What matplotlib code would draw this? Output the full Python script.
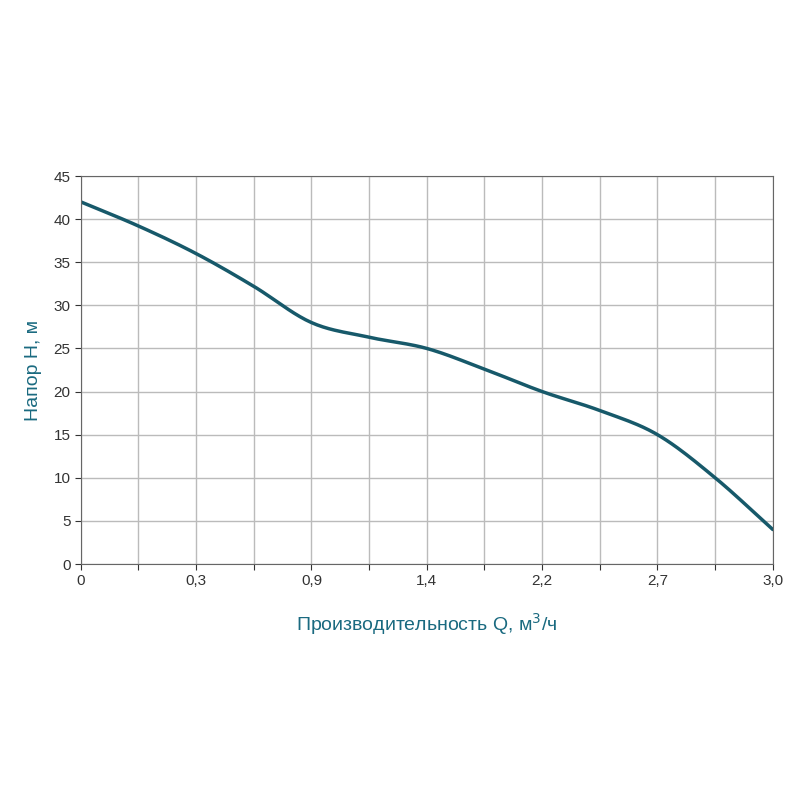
import matplotlib
matplotlib.use("Agg")
import matplotlib.pyplot as plt
import numpy as np

plt.rcParams['font.family'] = ['Liberation Sans', 'DejaVu Sans']

x_pos = list(range(13))
head = [42, 39.2, 36, 32.2, 28, 26.3, 25, 22.6, 20, 17.8, 15, 10, 4]
tick_pos = [0, 2, 4, 6, 8, 10, 12]
tick_labels = ["0", "0,3", "0,9", "1,4", "2,2", "2,7", "3,0"]
y_ticks = [0, 5, 10, 15, 20, 25, 30, 35, 40, 45]

# Catmull-Rom smoothing for drawing
P = np.array([x_pos, head], dtype=float).T
P = np.vstack([2 * P[0] - P[1], P, 2 * P[-1] - P[-2]])
curve = []
for i in range(1, len(P) - 2):
    p0, p1, p2, p3 = P[i - 1], P[i], P[i + 1], P[i + 2]
    for t in np.linspace(0, 1, 20, endpoint=False):
        curve.append(0.5 * ((2 * p1) + (-p0 + p2) * t + (2 * p0 - 5 * p1 + 4 * p2 - p3) * t**2
                            + (-p0 + 3 * p1 - 3 * p2 + p3) * t**3))
curve.append(P[-2])
curve = np.array(curve)

fig = plt.figure(figsize=(8, 8), dpi=100)
ax = fig.add_axes([0.101, 0.295, 0.865, 0.485])
ax.plot(curve[:, 0], curve[:, 1], color="#17596a", lw=2.5, solid_capstyle="round")
ax.set_xlim(0, 12)
ax.set_ylim(0, 45)
ax.set_xticks(range(13))
ax.set_xticklabels([tick_labels[tick_pos.index(i)] if i in tick_pos else "" for i in range(13)])
ax.set_yticks(y_ticks)
ax.grid(True, color="#bbbbbb", lw=1)
ax.tick_params(colors="#333333", labelsize=11, length=4)
for s in ax.spines.values():
    s.set_color("#666666")
ax.set_xlabel("Производительность Q, м$^3$/ч", color="#1a6a80", fontsize=14, labelpad=16)
ax.set_ylabel("Напор Н, м", color="#1a6a80", fontsize=14, labelpad=8)
fig.savefig("out.png")
